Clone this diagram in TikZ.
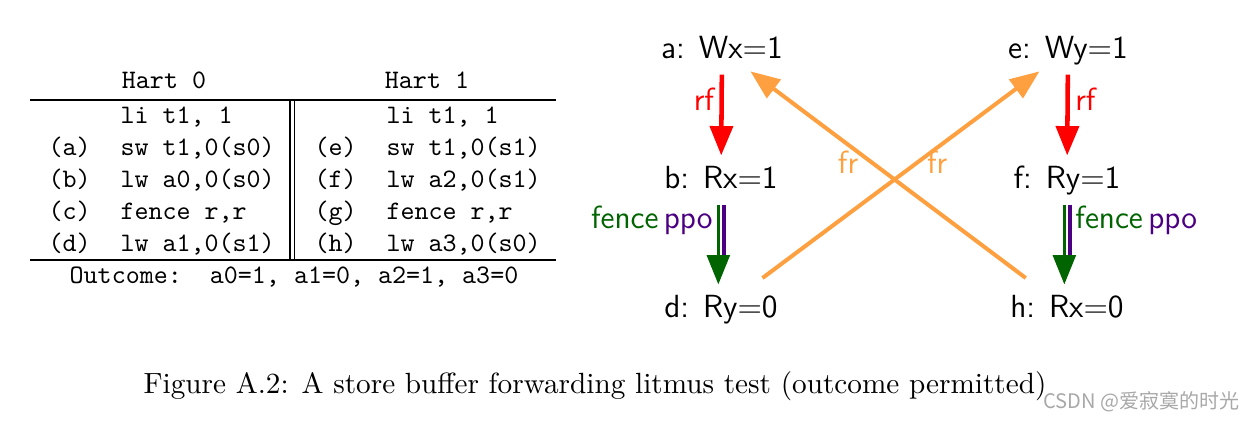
\documentclass[tikz,border=0pt]{standalone}
\usepackage{fontspec}
\newfontfamily\cjk{Noto Sans CJK SC}
\usepackage{xcolor}
\usepackage{tikz}
\usetikzlibrary{positioning,arrows.meta}
\definecolor{rfred}{HTML}{FF0000}
\definecolor{frorange}{HTML}{FFA040}
\definecolor{fencegreen}{HTML}{006400}
\definecolor{ppopurple}{HTML}{4B0082}
\definecolor{markgrey}{HTML}{A8A8A8}

\tikzset{
  code/.style={font=\ttfamily,inner sep=0pt},
  ev/.style={font=\sffamily\large,inner sep=3pt,text height=9pt,text depth=3pt},
  elab/.style={font=\sffamily\large,inner sep=2pt},
  bigtip/.style={-{Triangle[length=11pt,width=8.5pt]}},
  rfarr/.style={bigtip,draw=rfred,line width=1.7pt},
  frarr/.style={bigtip,draw=frorange,line width=1.5pt,shorten <=4pt,shorten >=-2pt},
  fencearr/.style={bigtip,draw=fencegreen,line width=1.3pt},
  ppoline/.style={draw=ppopurple,line width=1.2pt,shorten >=10pt}
}

\begin{document}
\begin{tikzpicture}[x=0.3745pt,y=-0.3745pt]
  \useasboundingbox (0,0) rectangle (1251,423);
  % litmus code
  \node[code,anchor=base] (hart0) at (164,88) {Hart 0};
  \node[code,anchor=base] (hart1) at (427,88) {Hart 1};
  \draw[line width=0.4pt] (30,100) -- (556,100);
  \draw[line width=0.4pt] (290,100) -- (290,260) (294.5,100) -- (294.5,260);
  \draw[line width=0.5pt] (30,260) -- (556,260);
  \foreach \la/\ia/\lb/\ib [count=\i] in {
      {}/{li t1, 1}/{}/{li t1, 1},
      {(a)}/{sw t1,0(s0)}/{(e)}/{sw t1,0(s1)},
      {(b)}/{lw a0,0(s0)}/{(f)}/{lw a2,0(s1)},
      {(c)}/{fence r,r}/{(g)}/{fence r,r},
      {(d)}/{lw a1,0(s1)}/{(h)}/{lw a3,0(s0)}} {
    \node[code,anchor=base west] (la\i) at (48,91+32*\i) {\la};
    \node[code,anchor=base west] (ia\i) at (120,91+32*\i) {\ia};
    \node[code,anchor=base west] (lb\i) at (314,91+32*\i) {\lb};
    \node[code,anchor=base west] (ib\i) at (386,91+32*\i) {\ib};
  }
  \node[code,anchor=base] (outcome) at (294,283) {Outcome:\ \ a0=1, a1=0, a2=1, a3=0};

  % events
  \node[ev] (a) at (722,50) {a: Wx=1};
  \node[ev] (b) at (721,180) {b: Rx=1};
  \node[ev] (d) at (721,309) {d: Ry=0};
  \node[ev] (e) at (1068,50) {e: Wy=1};
  \node[ev] (f) at (1067,180) {f: Ry=1};
  \node[ev] (h) at (1067,309) {h: Rx=0};

  % relations
  \draw[rfarr] (a) -- node[elab,pos=0.3,left,text=rfred] (rfa) {rf} (b);
  \draw[rfarr] (e) -- node[elab,pos=0.3,right,text=rfred] (rfe) {rf} (f);
  \draw[ppoline,transform canvas={xshift=1.1pt}] (b) -- (d);
  \draw[fencearr,transform canvas={xshift=-1pt}] (b) -- node[elab,pos=0.2,left,inner sep=1.5pt] (ppob)
    {\textcolor{fencegreen}{fence}\,\textcolor{ppopurple}{ppo}} (d);
  \draw[ppoline,transform canvas={xshift=1.1pt}] (f) -- (h);
  \draw[fencearr,transform canvas={xshift=-1pt}] (f) -- node[elab,pos=0.2,right,inner sep=3.5pt] (ppof)
    {\textcolor{fencegreen}{fence}\,\textcolor{ppopurple}{ppo}} (h);
  \draw[frarr] (d) -- node[elab,text=frorange,pos=0.5,xshift=16pt,yshift=6.5pt] (frd) {fr} (e);
  \draw[frarr] (h) -- node[elab,text=frorange,pos=0.5,xshift=-17.4pt,yshift=6.5pt] (frh) {fr} (a);

  % caption
  \node[anchor=base,font=\fontsize{10.95}{13.6}\selectfont] (cap) at (595,393)
    {Figure A.2: A store buffer forwarding litmus test (outcome permitted)};
  \node[font=\cjk\fontsize{7.5}{9}\selectfont,text=markgrey,anchor=base west,inner sep=0pt] (mark)
    at (1043,408) {CSDN @爱寂寞的时光};
\end{tikzpicture}
\end{document}
